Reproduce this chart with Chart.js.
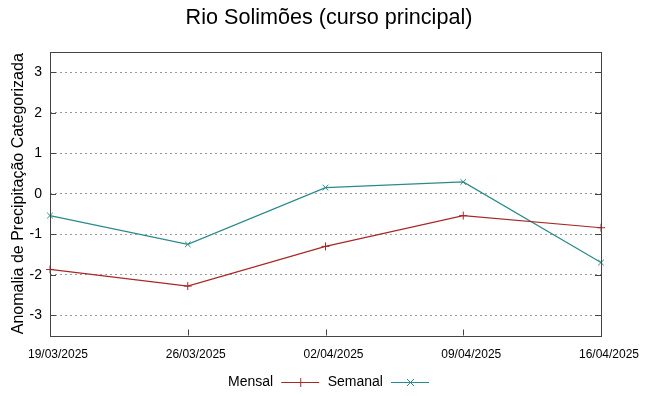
<!DOCTYPE html>
<html>
<head>
<meta charset="utf-8">
<script src="https://cdn.jsdelivr.net/npm/chart.js@4/dist/chart.umd.min.js"></script>
<style>
  html, body { margin: 0; padding: 0; background: #fff; }
</style>
</head>
<body>
<canvas id="chart" width="649" height="396"></canvas>
<script>
// data
const dates = ["19/03/2025", "26/03/2025", "02/04/2025", "09/04/2025", "16/04/2025"];
const mensal = [-1.87, -2.28, -1.30, -0.54, -0.84];
const semanal = [-0.54, -1.25, 0.15, 0.29, -1.70];
const yTicks = [-3, -2, -1, 0, 1, 2, 3];

const RED = "#a82828";
const TEAL = "#2a8a8a";
const FRAME = "#444";

// legend sample: short line with the marker in the middle (gnuplot style)
function legendSample(color, style) {
    const c = document.createElement("canvas");
    c.width = 40; c.height = 10;
    const g = c.getContext("2d");
    g.strokeStyle = color;
    g.lineWidth = 1;
    g.beginPath();
    g.moveTo(1, 5.5); g.lineTo(39, 5.5);
    if (style === "cross") {
        g.moveTo(20.5, 1); g.lineTo(20.5, 10);
    } else {
        g.moveTo(17, 2); g.lineTo(24, 9);
        g.moveTo(24, 2); g.lineTo(17, 9);
    }
    g.stroke();
    return c;
}

/* ---- frame + inward ticks ---- */
const framePlugin = {
    id: "frame",
    afterDatasetsDraw(chart) {
        const { ctx, chartArea: a, scales } = chart;
        ctx.save();
        ctx.strokeStyle = FRAME;
        ctx.lineWidth = 1;
        ctx.beginPath();
        yTicks.forEach(v => {
            const y = Math.round(scales.y.getPixelForValue(v)) + 0.5;
            ctx.moveTo(a.left, y); ctx.lineTo(a.left + 6, y);
            ctx.moveTo(a.right, y); ctx.lineTo(a.right - 6, y);
        });
        dates.forEach((d, i) => {
            const x = Math.round(scales.x.getPixelForValue(i)) + 0.5;
            ctx.moveTo(x, a.bottom); ctx.lineTo(x, a.bottom - 6);
        });
        ctx.stroke();
        ctx.strokeRect(Math.round(a.left) + 0.5, Math.round(a.top) + 0.5,
            Math.round(a.right - a.left), Math.round(a.bottom - a.top));
        ctx.restore();
    }
};

const ctx = document.getElementById("chart").getContext("2d");
new Chart(ctx, {
    type: "line",
    data: {
        labels: dates,
        datasets: [{
            label: "Mensal",
            data: mensal,
            borderColor: RED,
            backgroundColor: RED,
            borderWidth: 1.2,
            pointStyle: "cross",
            pointRadius: 4,
            pointBorderWidth: 1,
            tension: 0,
            fill: false
        }, {
            label: "Semanal",
            data: semanal,
            borderColor: TEAL,
            backgroundColor: TEAL,
            borderWidth: 1.2,
            pointStyle: "crossRot",
            pointRadius: 4,
            pointBorderWidth: 1,
            tension: 0,
            fill: false
        }]
    },
    options: {
        responsive: false,
        animation: false,
        layout: { padding: { left: 9, right: 0, top: 0, bottom: -3 } },
        plugins: {
            title: {
                display: true,
                text: "Rio Solimões (curso principal)",
                color: "#000",
                font: { family: "Liberation Sans", size: 21.6, weight: "normal" },
                padding: { top: 5, bottom: 21 }
            },
            legend: {
                position: "bottom",
                rtl: true,
                reverse: true,
                labels: {
                    color: "#000",
                    font: { family: "Liberation Sans", size: 14 },
                    usePointStyle: true,
                    pointStyleWidth: 40,
                    boxHeight: 10,
                    padding: 7.5,
                    generateLabels(chart) {
                        return chart.data.datasets.map((ds, i) => ({
                            text: ds.label,
                            pointStyle: legendSample(ds.borderColor, ds.pointStyle),
                            fillStyle: ds.borderColor,
                            strokeStyle: ds.borderColor,
                            lineWidth: 0,
                            hidden: false,
                            datasetIndex: i
                        }));
                    }
                }
            },
            tooltip: { enabled: false }
        },
        scales: {
            x: {
                type: "category",
                offset: false,
                grid: { display: false, drawTicks: false },
                border: { display: false },
                ticks: {
                    color: "#000",
                    font: { family: "Liberation Sans", size: 12 },
                    padding: 12,
                    labelOffset: 8,
                    maxRotation: 0,
                    autoSkip: false
                },
                afterFit(s) { s.height = 32; }
            },
            y: {
                min: -3.5,
                max: 3.5,
                afterBuildTicks(s) { s.ticks = yTicks.map(v => ({ value: v })); },
                grid: {
                    color: "#999",
                    lineWidth: 1,
                    drawTicks: false
                },
                border: { display: false, dash: [2, 3] },
                ticks: {
                    color: "#000",
                    font: { family: "Liberation Sans", size: 14 },
                    padding: 8
                },
                title: {
                    display: true,
                    text: "Anomalia de Precipitação Categorizada",
                    color: "#000",
                    font: { family: "Liberation Sans", size: 16 },
                    padding: { top: 0, bottom: 0 }
                },
                afterFit(s) { s.width = 41; }
            },
            y2: {
                position: "right",
                min: -3.5,
                max: 3.5,
                grid: { display: false },
                border: { display: false },
                ticks: { display: false },
                afterFit(s) { s.width = 48; }
            }
        }
    },
    plugins: [framePlugin]
});
</script>
</body>
</html>
